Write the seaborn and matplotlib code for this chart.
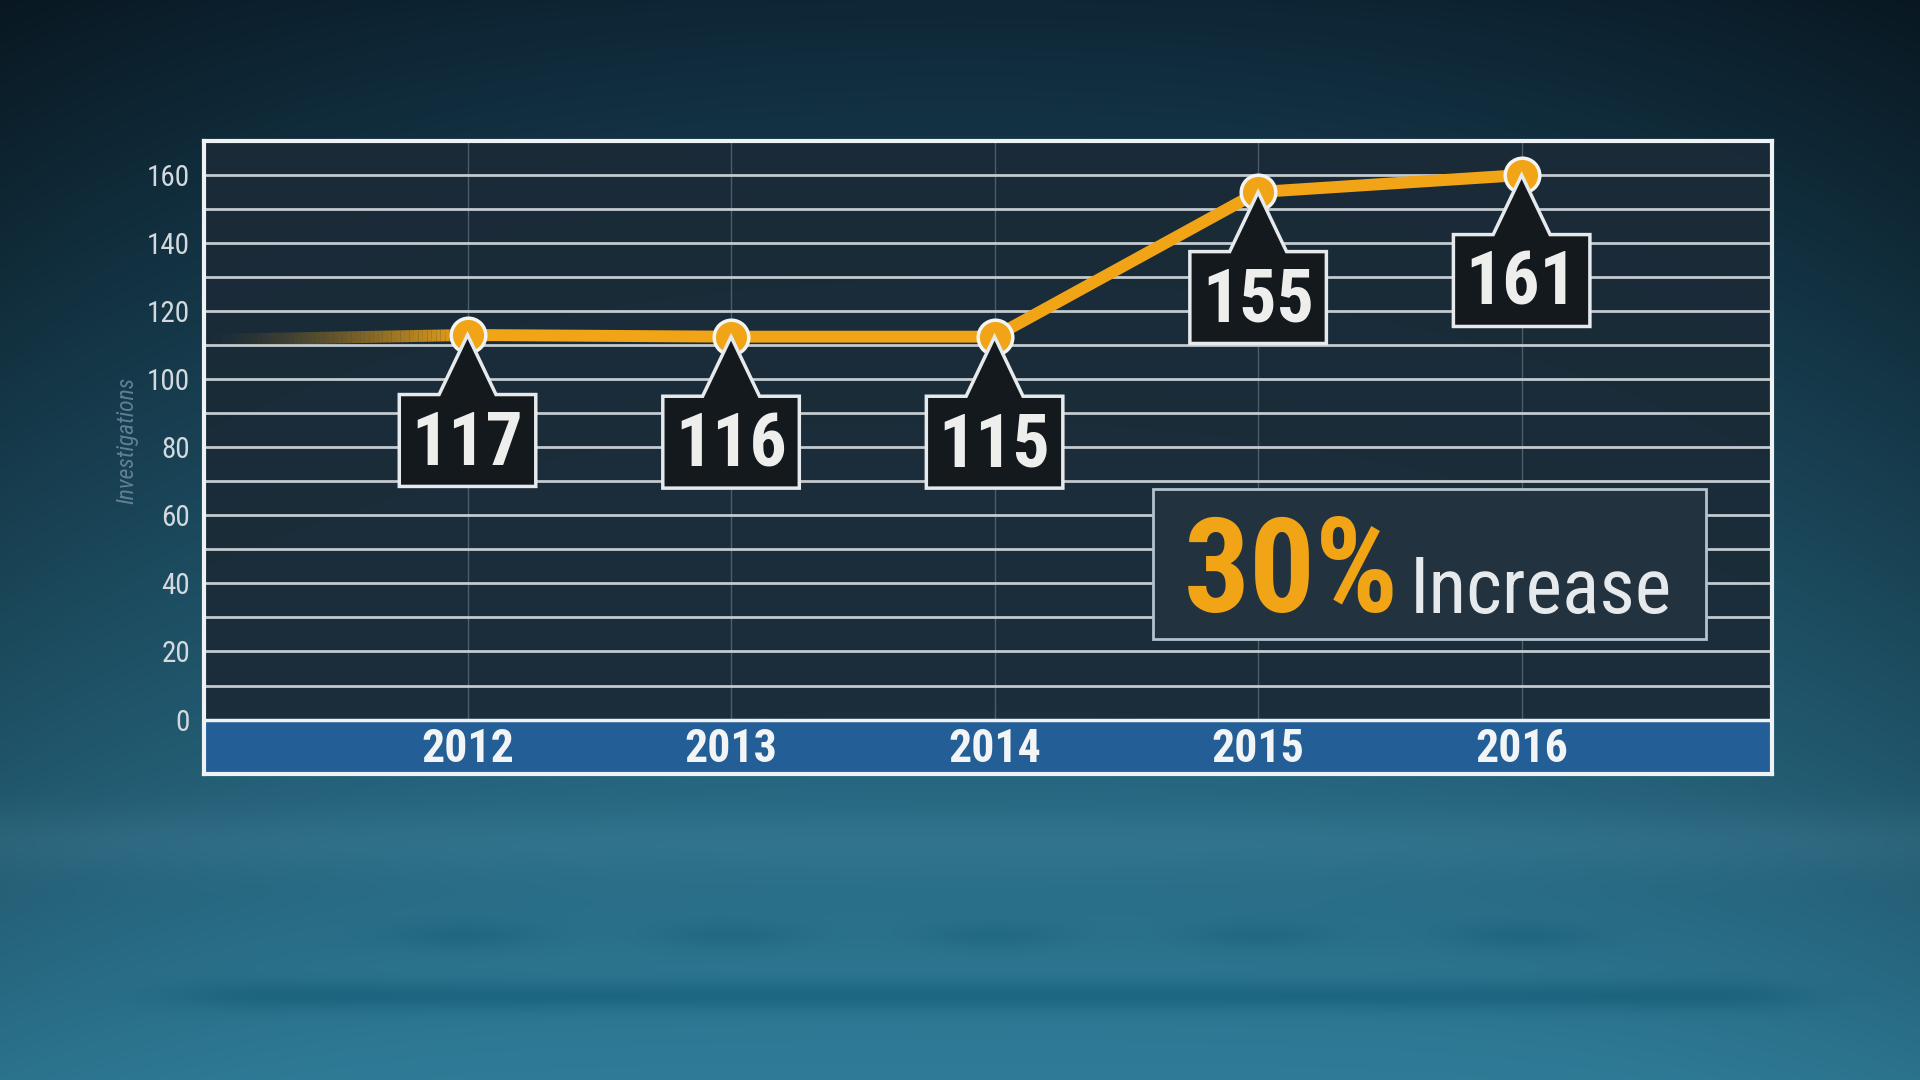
import numpy as np
import seaborn as sns
import matplotlib.pyplot as plt
from matplotlib.patches import Polygon, Rectangle
from matplotlib.collections import LineCollection

# data
years = [2012, 2013, 2014, 2015, 2016]
investigations = [117, 116, 115, 155, 161]      # numbers printed in the callouts
line_level = [113, 112.5, 112.5, 155, 160]      # where the points sit on the grid
lead_in_year = 2011.0
lead_in_level = 111.5
y_ticks = [0, 20, 40, 60, 80, 100, 120, 140, 160]
y_title = "Investigations"
headline_pct = "30%"
headline_word = "Increase"

ORANGE = "#f0a416"
FONT = ["Roboto Condensed", "Roboto", "DejaVu Sans"]

sns.set_style("dark")
plt.rcParams["font.family"] = FONT

fig = plt.figure(figsize=(19.2, 10.8), dpi=100)

# backdrop: dark navy at the top fading to teal, with soft shadows under the chart
H, W = 270, 480
yy = np.linspace(0, 1, H)[:, None]
xx = np.linspace(0, 1, W)[None, :]
top = np.array([14, 38, 54]) / 255
bot = np.array([47, 124, 152]) / 255
img = top + (bot - top) * (yy[..., None] ** 0.9)
vign = 1 - 0.3 * ((xx - 0.5) * 2) ** 2 * (1 - yy) - 0.08 * ((xx - 0.5) * 2) ** 4
img = img * vign[..., None]
img = img + 0.035 * np.exp(-((yy - 0.78) / 0.03) ** 2)[..., None]
edge = 1 / (1 + np.exp(-(xx - 0.1) * 60)) * 1 / (1 + np.exp((xx - 0.93) * 60))
img = img - (0.06 * np.exp(-((yy - 0.924) / 0.013) ** 2) * edge)[..., None]
for px in [465, 730, 994, 1258, 1522]:
    blob = np.exp(-((yy - 0.868) / 0.012) ** 2 - ((xx - px / 1920) / 0.04) ** 2)
    img = img - (0.035 * blob)[..., None]
img = np.clip(img, 0, 1)
bg = fig.add_axes([0, 0, 1, 1], zorder=-10)
bg.imshow(img, aspect="auto", extent=[0, 1, 0, 1], interpolation="bicubic")
bg.axis("off")

ax = fig.add_axes([204 / 1920, 1 - 774 / 1080, 1568 / 1920, 633 / 1080])
ax.set_facecolor((0.105, 0.165, 0.215, 0.93))

# grid: labelled every 20, lines every 10
ax.set_yticks(y_ticks)
ax.set_yticks([t + 10 for t in y_ticks], minor=True)
ax.set_xticks(years)
ax.set_axisbelow(True)
ax.grid(axis="y", which="both", color="#c3cad0", lw=2)
ax.grid(axis="x", color="#7f8f9c", lw=1, alpha=0.5)
ax.tick_params(axis="y", which="both", length=0, pad=10, labelsize=21, labelcolor="#d3d9de")
ax.tick_params(axis="x", length=0, labelbottom=False)
for s in ax.spines.values():
    s.set_color("#eef2f5")
    s.set_linewidth(3)

# blue year band under zero
ax.axhspan(-16, 0, color="#235e96", zorder=1)
ax.axhline(0, color="#eef2f5", lw=2.5, zorder=2)
for yr in years:
    ax.text(yr, -8.8, str(yr), ha="center", va="center", fontsize=33,
            fontweight="bold", color="#f2f4f6", zorder=3)

fig.text(127 / 1920, 1 - 440 / 1080, y_title, rotation=90, style="italic",
         color="#5f7f95", fontsize=17, ha="center", va="center")

# line, fading in from the left edge
n = 60
lx = np.linspace(lead_in_year, years[0], n)
ly = np.linspace(lead_in_level, line_level[0], n)
segs = np.stack([np.column_stack([lx[:-1], ly[:-1]]), np.column_stack([lx[1:], ly[1:]])], axis=1)
cols = np.zeros((n - 1, 4))
cols[:, :3] = plt.matplotlib.colors.to_rgb(ORANGE)
cols[:, 3] = np.linspace(0, 1, n - 1) ** 1.5
ax.add_collection(LineCollection(segs, colors=cols, linewidths=8.6, capstyle="butt", zorder=4))

sns.lineplot(x=years, y=line_level, ax=ax, color=ORANGE, lw=8.6, zorder=4)
ax.scatter(years, line_level, s=620, color=ORANGE, edgecolor="#f4f4f2", linewidth=2.5, zorder=5)

# callout tags
hw, tb, gap, bh = 0.259, 0.108, 17.5, 27
for yr, v, lab in zip(years, line_level, investigations):
    t = v - gap
    b = t - bh
    pts = [(yr - hw, b), (yr - hw, t), (yr - tb, t), (yr, v), (yr + tb, t), (yr + hw, t), (yr + hw, b)]
    ax.add_patch(Polygon(pts, closed=True, fc="#14191d", ec="#e6eaed", lw=2.5,
                         joinstyle="miter", zorder=6))
    ax.text(yr, (t + b) / 2 - 1.2, str(lab), ha="center", va="center", fontsize=53,
            fontweight="bold", color="#eeeeec", zorder=7)

# headline box
ax.add_patch(Rectangle((0.605, 0.213), 0.353, 0.237, transform=ax.transAxes,
                       fc="#22323e", ec="#b4c2cc", lw=2, zorder=6))
t30 = ax.text(0.625, 0.256, headline_pct, transform=ax.transAxes, ha="left", va="baseline",
              fontsize=94, fontweight="bold", color=ORANGE, zorder=7)

ax.set_xlim(lead_in_year, 2016.95)
ax.set_ylim(-16, 170)
ax.set_xlabel("")
ax.set_ylabel("")

# put "Increase" just right of the percentage
fig.canvas.draw()
bb = t30.get_window_extent(fig.canvas.get_renderer())
x_after = ax.transAxes.inverted().transform((bb.x1 + 10, bb.y0))[0]
ax.text(x_after, 0.254, headline_word, transform=ax.transAxes, ha="left", va="baseline",
        fontsize=56, color="#e6eaed", zorder=7)

fig.savefig("out.png", dpi=100)
